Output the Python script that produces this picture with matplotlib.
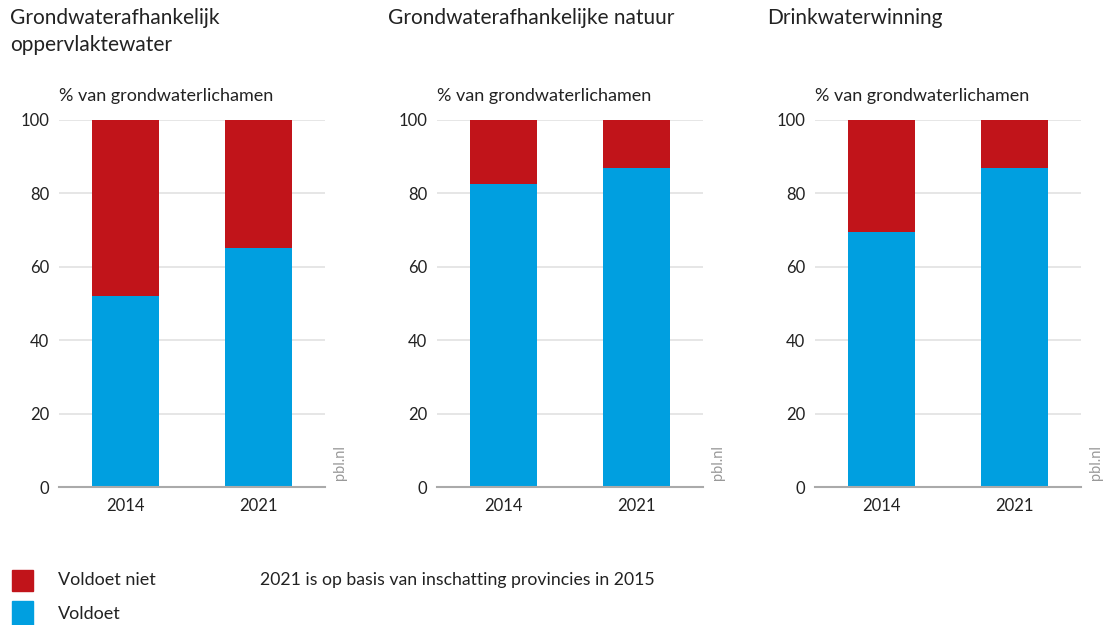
import matplotlib.pyplot as plt
from matplotlib.patches import Rectangle

plt.rcParams['font.family'] = ['Lato', 'DejaVu Sans']

titles = ["Grondwaterafhankelijk\noppervlaktewater",
          "Grondwaterafhankelijke natuur",
          "Drinkwaterwinning"]
years = ["2014", "2021"]
voldoet = [[52, 65], [82.6, 87], [69.6, 87]]
voldoet_niet = [[100 - v for v in row] for row in voldoet]

red = "#c1141a"
blue = "#009fe0"
text_col = "#222222"

W, H = 1103, 625
fig = plt.figure(figsize=(W / 100, H / 100), dpi=100)

# axes positions in pixels: (left, right)
ax_x = [(59, 325), (437, 703), (815, 1081)]
title_x = [10, 388, 767]
top_px, bottom_px = 120, 487

for i in range(3):
    l, r = ax_x[i]
    ax = fig.add_axes([l / W, 1 - bottom_px / H, (r - l) / W, (bottom_px - top_px) / H])
    xs = range(len(years))
    ax.bar(xs, voldoet[i], width=0.5, color=blue, zorder=2)
    ax.bar(xs, voldoet_niet[i], width=0.5, bottom=voldoet[i], color=red, zorder=2)
    ax.set_xlim(-0.5, 1.5)
    ax.set_ylim(0, 100)
    ax.set_yticks([0, 20, 40, 60, 80, 100])
    ax.set_xticks(list(xs))
    ax.set_xticklabels(years)
    ax.yaxis.grid(True, color="#e2e2e2", linewidth=1.2, zorder=0)
    ax.set_axisbelow(True)
    for s in ["top", "right", "left"]:
        ax.spines[s].set_visible(False)
    ax.spines["bottom"].set_color("#aaaaaa")
    ax.spines["bottom"].set_linewidth(1.5)
    ax.tick_params(axis="y", length=0, pad=7, labelsize=12, colors=text_col)
    ax.tick_params(axis="x", length=0, pad=8, labelsize=12, colors=text_col)
    ax.text(0.0, 1.065, "% van grondwaterlichamen", transform=ax.transAxes,
            fontsize=13, color=text_col, ha="left", va="center")
    ax.text(1.055, 0.02, "pbl.nl", transform=ax.transAxes, rotation=90,
            fontsize=10.5, color="#999999", ha="center", va="bottom")
    fig.text(title_x[i] / W, 1 - 8 / H, titles[i], fontsize=15, color=text_col,
             ha="left", va="top", linespacing=1.45)

# legend
fig.patches.append(Rectangle((12 / W, 1 - 591 / H), 21 / W, 21 / H,
                             transform=fig.transFigure, color=red))
fig.patches.append(Rectangle((12 / W, 1 - 625 / H), 21 / W, 24 / H,
                             transform=fig.transFigure, color=blue))
fig.text(58 / W, 1 - 580 / H, "Voldoet niet", fontsize=13, color=text_col, va="center")
fig.text(58 / W, 1 - 614 / H, "Voldoet", fontsize=13, color=text_col, va="center")
fig.text(260 / W, 1 - 580 / H, "2021 is op basis van inschatting provincies in 2015",
         fontsize=12.7, color=text_col, va="center")

fig.savefig("out.png", dpi=100)
